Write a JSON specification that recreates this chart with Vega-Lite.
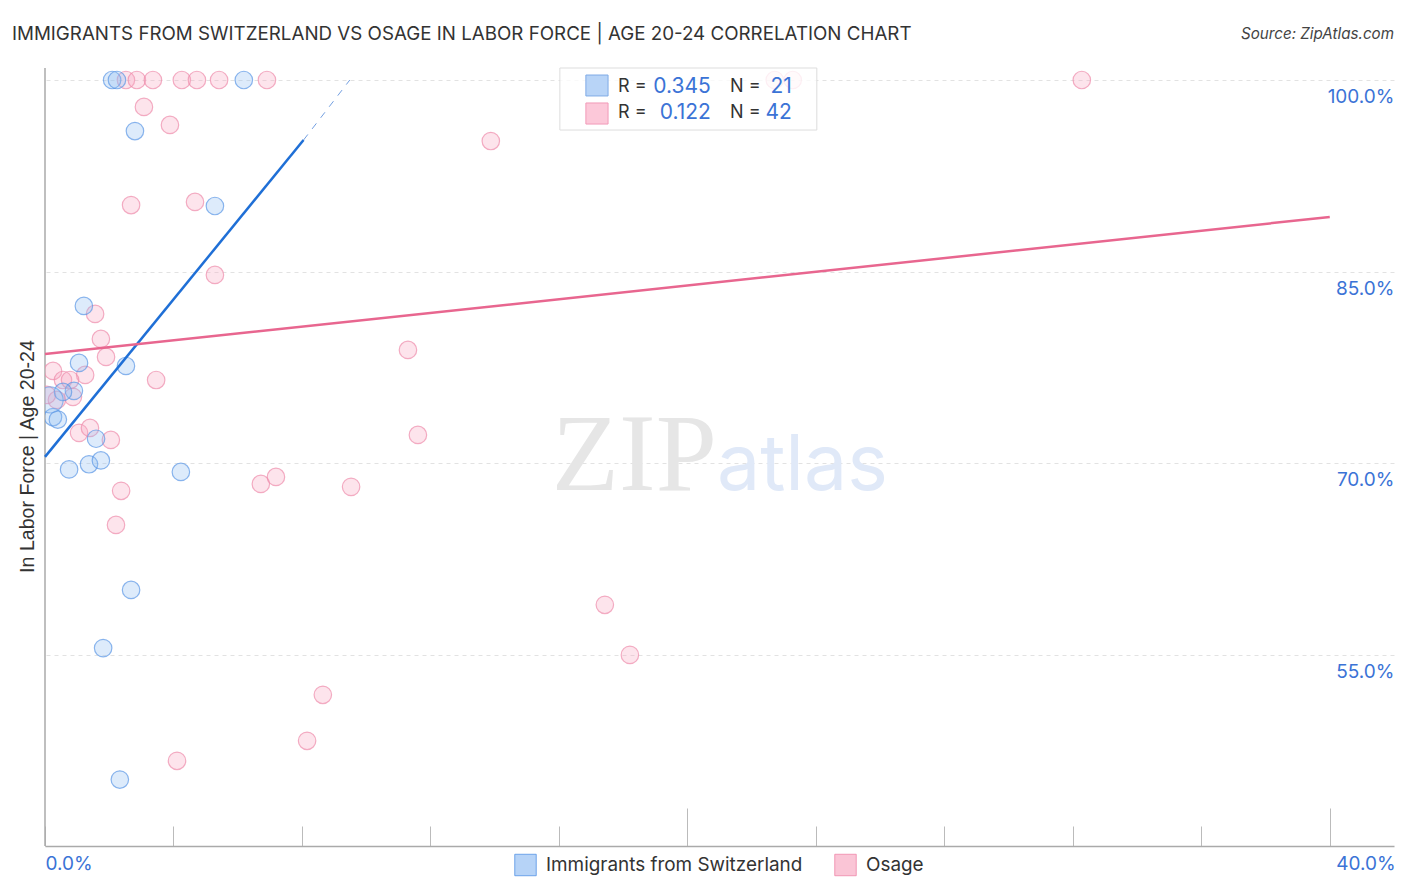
{
  "$schema": "https://vega.github.io/schema/vega-lite/v6.json",
  "autosize": "none",
  "padding": {"left": 45, "top": 68, "right": 12, "bottom": 46},
  "width": 1349,
  "height": 778,
  "background": "white",
  "view": {"stroke": null},
  "datasets": {
    "points": [
      {"group": "Osage", "x": 2.52, "y": 100}, {"group": "Osage", "x": 2.86, "y": 100}, {"group": "Osage", "x": 3.36, "y": 100},
      {"group": "Osage", "x": 4.26, "y": 100}, {"group": "Osage", "x": 4.73, "y": 100}, {"group": "Osage", "x": 5.42, "y": 100},
      {"group": "Osage", "x": 6.91, "y": 100}, {"group": "Osage", "x": 22.72, "y": 100}, {"group": "Osage", "x": 23.28, "y": 100},
      {"group": "Osage", "x": 32.28, "y": 100}, {"group": "Osage", "x": 3.08, "y": 97.89}, {"group": "Osage", "x": 3.89, "y": 96.48},
      {"group": "Osage", "x": 2.68, "y": 90.2}, {"group": "Osage", "x": 4.67, "y": 90.45}, {"group": "Osage", "x": 5.29, "y": 84.73},
      {"group": "Osage", "x": 1.56, "y": 81.68}, {"group": "Osage", "x": 1.74, "y": 79.72}, {"group": "Osage", "x": 1.9, "y": 78.31},
      {"group": "Osage", "x": 0.25, "y": 77.21}, {"group": "Osage", "x": 1.25, "y": 76.9}, {"group": "Osage", "x": 0.56, "y": 76.5},
      {"group": "Osage", "x": 0.78, "y": 76.5}, {"group": "Osage", "x": 3.46, "y": 76.5}, {"group": "Osage", "x": 0.87, "y": 75.18},
      {"group": "Osage", "x": 0.37, "y": 74.94}, {"group": "Osage", "x": 0.06, "y": 75.33}, {"group": "Osage", "x": 1.06, "y": 72.36},
      {"group": "Osage", "x": 1.4, "y": 72.75}, {"group": "Osage", "x": 2.05, "y": 71.81}, {"group": "Osage", "x": 2.37, "y": 67.82},
      {"group": "Osage", "x": 2.21, "y": 65.15}, {"group": "Osage", "x": 6.72, "y": 68.36}, {"group": "Osage", "x": 7.19, "y": 68.91},
      {"group": "Osage", "x": 9.53, "y": 68.13}, {"group": "Osage", "x": 11.61, "y": 72.2}, {"group": "Osage", "x": 11.3, "y": 78.86},
      {"group": "Osage", "x": 13.88, "y": 95.22}, {"group": "Osage", "x": 17.43, "y": 58.89}, {"group": "Osage", "x": 18.21, "y": 54.97},
      {"group": "Osage", "x": 8.65, "y": 51.84}, {"group": "Osage", "x": 8.16, "y": 48.24}, {"group": "Osage", "x": 4.11, "y": 46.67},
      {"group": "Immigrants from Switzerland", "x": 2.09, "y": 100}, {"group": "Immigrants from Switzerland", "x": 2.24, "y": 100},
      {"group": "Immigrants from Switzerland", "x": 6.19, "y": 100}, {"group": "Immigrants from Switzerland", "x": 2.8, "y": 96},
      {"group": "Immigrants from Switzerland", "x": 5.29, "y": 90.13}, {"group": "Immigrants from Switzerland", "x": 1.21, "y": 82.3},
      {"group": "Immigrants from Switzerland", "x": 1.06, "y": 77.84}, {"group": "Immigrants from Switzerland", "x": 2.52, "y": 77.6},
      {"group": "Immigrants from Switzerland", "x": 0.9, "y": 75.65}, {"group": "Immigrants from Switzerland", "x": 0.56, "y": 75.57},
      {"group": "Immigrants from Switzerland", "x": 0.25, "y": 73.6}, {"group": "Immigrants from Switzerland", "x": 0.4, "y": 73.4},
      {"group": "Immigrants from Switzerland", "x": 1.59, "y": 71.9}, {"group": "Immigrants from Switzerland", "x": 0.75, "y": 69.5},
      {"group": "Immigrants from Switzerland", "x": 1.37, "y": 69.9}, {"group": "Immigrants from Switzerland", "x": 1.74, "y": 70.2},
      {"group": "Immigrants from Switzerland", "x": 4.23, "y": 69.3}, {"group": "Immigrants from Switzerland", "x": 2.68, "y": 60.06},
      {"group": "Immigrants from Switzerland", "x": 1.81, "y": 55.5}, {"group": "Immigrants from Switzerland", "x": 2.33, "y": 45.2}
    ]
  },
  "encoding": {
    "x": {
      "field": "x", "type": "quantitative",
      "scale": {"domain": [0, 42], "nice": false, "zero": false},
      "axis": {
        "title": null, "grid": false,
        "values": [0, 4, 8, 12, 16, 20, 24, 28, 32, 36, 40],
        "domainColor": "#aaaaaa", "domainWidth": 1.5,
        "tickColor": "#bbbbbb", "tickWidth": 1,
        "tickSize": {"condition": {"test": "datum.value == 20 || datum.value == 40", "value": -38}, "value": -20},
        "labelExpr": "datum.value == 0 || datum.value == 40 ? format(datum.value, '.1f') + '%' : ''",
        "labelFont": "Inter", "labelFontSize": 19, "labelColor": "#3b73d6",
        "labelAlign": "left",
        "labelPadding": {"condition": {"test": "datum.value == 40", "value": 46}, "value": 28},
        "labelOffset": {"condition": {"test": "datum.value == 40", "value": 6}, "value": 0},
        "labelFlush": false, "labelOverlap": false
      }
    },
    "y": {
      "field": "y", "type": "quantitative",
      "scale": {"domain": [40, 100.94], "nice": false, "zero": false},
      "axis": {
        "orient": "right", "values": [55, 70, 85, 100],
        "grid": true, "gridDash": [4, 4], "gridColor": "#e2e2e2", "gridWidth": 1,
        "domain": false, "ticks": false,
        "labelExpr": "format(datum.value, '.1f') + '%'",
        "labelFont": "Inter", "labelFontSize": 19, "labelColor": "#3b73d6",
        "labelAlign": "right", "labelPadding": 0, "labelOffset": 16.5,
        "title": "In Labor Force | Age 20-24", "titleFont": "Liberation Sans", "titleFontSize": 19.6,
        "titleFontWeight": 400, "titleColor": "#333333", "titleAngle": -90,
        "titleX": -1367, "titleY": 388, "titleAlign": "center", "titleBaseline": "middle"
      }
    }
  },
  "layer": [
    {
      "data": {"values": [{"x": 0, "y": 40, "y2": 100.94}]},
      "mark": {"type": "rule", "color": "#aaaaaa", "strokeWidth": 1.5},
      "encoding": {"y2": {"field": "y2"}}
    },
    {
      "data": {"values": [{"x": 15.78, "y": 67.89, "label": "ZIP"}]},
      "mark": {"type": "text", "font": "Liberation Serif", "fontSize": 110, "align": "left", "baseline": "alphabetic", "color": "#e6e6e6"},
      "encoding": {"text": {"field": "label"}}
    },
    {
      "data": {"values": [{"x": 20.92, "y": 67.89, "label": "atlas"}]},
      "mark": {"type": "text", "font": "Inter", "fontSize": 77, "align": "left", "baseline": "alphabetic", "color": "#e0e9f8"},
      "encoding": {"text": {"field": "label"}}
    },
    {
      "data": {"name": "points"},
      "mark": {"type": "point", "filled": false, "clip": true, "size": 306, "shape": "circle", "fillOpacity": 0.3, "strokeOpacity": 0.7, "strokeWidth": 1.2},
      "encoding": {
        "fill": {
          "field": "group", "type": "nominal",
          "scale": {"domain": ["Immigrants from Switzerland", "Osage"], "range": ["#8fbcf2", "#f7a6c0"]},
          "legend": {
            "title": null, "orient": "none", "legendX": 469, "legendY": 785, "direction": "horizontal", "columns": 2,
            "symbolType": "square", "symbolSize": 460, "symbolStrokeWidth": 1, "symbolOpacity": 1,
            "labelFont": "Inter", "labelFontSize": 18.9, "labelColor": "#333333", "labelOffset": 9, "labelLimit": 400,
            "columnPadding": 31, "clipHeight": 24,
            "encode": {"symbols": {"update": {"fillOpacity": {"value": 0.65}, "strokeOpacity": {"value": 0.85}}}}
          }
        },
        "stroke": {
          "field": "group", "type": "nominal",
          "scale": {"domain": ["Immigrants from Switzerland", "Osage"], "range": ["#5b97e6", "#ee8bab"]}
        }
      }
    },
    {
      "data": {"values": [{"x": 0.16, "y": 74.94}]},
      "mark": {"type": "point", "filled": false, "clip": true, "size": 680, "shape": "circle", "fill": "#8fbcf2", "fillOpacity": 0.3, "stroke": "#5b97e6", "strokeOpacity": 0.6, "strokeWidth": 1.2}
    },
    {
      "data": {"values": [{"x": 0, "y": 70.48}, {"x": 8.05, "y": 95.3}]},
      "mark": {"type": "line", "color": "#1f6fd6", "strokeWidth": 2.5}
    },
    {
      "data": {"values": [{"x": 8.05, "y": 95.3}, {"x": 9.49, "y": 100}]},
      "mark": {"type": "line", "color": "#4f86d8", "strokeWidth": 1, "strokeDash": [7, 7], "opacity": 0.8}
    },
    {
      "data": {"values": [{"x": 0, "y": 78.53}, {"x": 40, "y": 89.27}]},
      "mark": {"type": "line", "color": "#e8668f", "strokeWidth": 2.5}
    },
    {
      "data": {"values": [{"x": 16.03, "x2": 24.03, "y": 96.08, "y2": 100.94}]},
      "mark": {"type": "rect", "fill": "white", "fillOpacity": 0.8, "stroke": "#dddddd", "strokeWidth": 1},
      "encoding": {"x2": {"field": "x2"}, "y2": {"field": "y2"}}
    },
    {
      "data": {"values": [{"x": 16.84, "x2": 17.53, "y": 98.75, "y2": 100.39}]},
      "mark": {"type": "rect", "fill": "#b8d4f7", "stroke": "#7fabe6", "strokeWidth": 1},
      "encoding": {"x2": {"field": "x2"}, "y2": {"field": "y2"}}
    },
    {
      "data": {"values": [{"x": 16.84, "x2": 17.53, "y": 96.55, "y2": 98.2}]},
      "mark": {"type": "rect", "fill": "#fcc8d9", "stroke": "#f29ab8", "strokeWidth": 1},
      "encoding": {"x2": {"field": "x2"}, "y2": {"field": "y2"}}
    },
    {
      "data": {"values": [
        {"x": 17.84, "y": 99.42, "label": "R ="}, {"x": 17.84, "y": 97.39, "label": "R ="},
        {"x": 21.33, "y": 99.42, "label": "N ="}, {"x": 21.33, "y": 97.39, "label": "N ="}
      ]},
      "mark": {"type": "text", "font": "Inter", "fontSize": 18, "align": "left", "baseline": "middle", "color": "#333333"},
      "encoding": {"text": {"field": "label"}}
    },
    {
      "data": {"values": [
        {"x": 20.73, "y": 99.42, "label": "0.345"}, {"x": 20.73, "y": 97.39, "label": "0.122"},
        {"x": 23.25, "y": 99.42, "label": "21"}, {"x": 23.25, "y": 97.39, "label": "42"}
      ]},
      "mark": {"type": "text", "font": "Inter", "fontSize": 21, "align": "right", "baseline": "middle", "color": "#3b73d6"},
      "encoding": {"text": {"field": "label"}}
    },
    {
      "data": {"values": [{"x": 42, "y": 103.62, "label": "Source: ZipAtlas.com"}]},
      "mark": {"type": "text", "font": "Inter", "fontSize": 15.2, "fontStyle": "italic", "align": "right", "baseline": "middle", "color": "#444444"},
      "encoding": {"text": {"field": "label"}}
    },
    {
      "data": {"values": [{"x": -1.03, "y": 103.62, "label": "IMMIGRANTS FROM SWITZERLAND VS OSAGE IN LABOR FORCE | AGE 20-24 CORRELATION CHART"}]},
      "mark": {"type": "text", "font": "Inter", "fontSize": 18.75, "align": "left", "baseline": "middle", "color": "#333333"},
      "encoding": {"text": {"field": "label"}}
    }
  ]
}
